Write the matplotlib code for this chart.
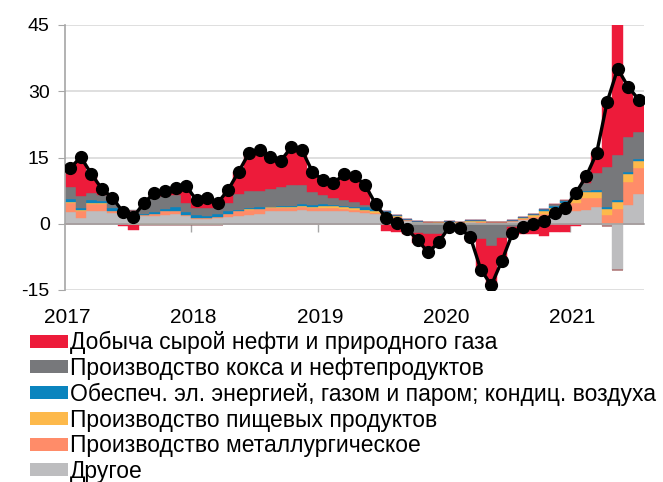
import matplotlib
matplotlib.use("Agg")
import matplotlib.pyplot as plt
from matplotlib.patches import Patch
from matplotlib import font_manager
import matplotlib.transforms as mtransforms
import numpy as np

# ---------------- data (Jan 2017 .. Jul 2021, monthly) ----------------
years = ["2017", "2018", "2019", "2020", "2021"]

labels = [
    "Добыча сырой нефти и природного газа",
    "Производство кокса и нефтепродуктов",
    "Обеспеч. эл. энергией, газом и паром; кондиц. воздуха",
    "Производство пищевых продуктов",
    "Производство металлургическое",
    "Другое",
]

oil = [4.2, 8.8, 4.4, 1.4, 0.5, -0.4, -1.2, 0.0, 1.2, 1.4, 1.9, 4.2,
       2.1, 2.5, 1.4, 3.0, 5.0, 8.7, 9.2, 7.4, 6.0, 8.6, 8.0, 4.7,
       3.4, 3.4, 5.8, 5.8, 4.5, 0.5, -1.6, -1.2, -1.2, -2.3, -4.6, -2.4,
       0.0, 0.0, -1.0, -7.7, -9.4, -5.7, -2.2, -1.7, -1.8, -2.5, -1.9, -1.9,
       -0.4, 1.4, 4.6, 15.2, 30.0, 11.3, 7.3]
coke = [2.8, 2.8, 1.5, 1.3, 1.9, 0.8, 0.8, 2.6, 3.3, 3.0, 2.6, 2.1,
        1.6, 1.7, 1.3, 1.9, 3.6, 3.8, 3.8, 3.9, 4.2, 4.6, 4.3, 2.8,
        2.0, 1.5, 1.3, 1.1, 0.6, 0.7, 0.0, -0.6, -1.1, -2.0, -2.4, -2.3,
        -1.4, -1.4, -2.8, -3.5, -5.0, -3.2, -0.8, -0.7, -0.6, -0.2, 0.3, 0.2,
        1.4, 1.8, 3.7, 9.1, 10.2, 8.0, 6.1]
elec = [0.6, 0.4, 0.7, 0.6, 0.6, 0.4, 0.4, 0.4, 0.4, 0.5, 0.9, 0.6,
        0.5, 0.5, 0.6, 0.5, 0.3, 0.3, 0.3, 0.2, 0.3, 0.2, 0.3, 0.4,
        0.4, 0.3, 0.3, 0.4, 0.5, 0.5, 0.5, 0.3, 0.2, 0.1, 0.1, 0.1,
        0.2, 0.1, 0.2, 0.1, 0.1, 0.1, 0.1, 0.2, 0.3, 0.4, 0.5, 0.4,
        0.3, 0.4, 0.4, 0.5, 0.4, 0.4, 0.5]
food = [0.3, 0.1, 0.2, 0.1, 0.1, -0.1, -0.2, -0.2, -0.2, -0.2, -0.3, -0.3,
        -0.3, -0.2, -0.2, 0.1, 0.1, 0.1, 0.1, 0.2, 0.3, 0.4, 0.3, 0.4,
        0.6, 0.5, 0.5, 0.3, 0.4, 0.4, 0.3, 0.2, 0.1, 0.1, 0.1, 0.2,
        0.1, 0.1, 0.1, 0.2, 0.1, 0.1, 0.1, 0.3, 0.5, 0.9, 1.0, 0.9,
        0.8, 1.3, 1.5, 1.3, 1.7, 1.8, 1.6]
metal = [2.1, 1.7, 1.5, 1.5, 0.4, 0.2, 0.1, 0.1, 0.5, 0.8, 0.7, 0.3,
         0.3, 0.3, 0.3, 0.6, 1.0, 1.2, 1.0, 0.7, 0.6, 0.6, 0.6, 0.6,
         0.7, 0.7, 0.5, 0.6, 0.4, 0.2, 0.2, 0.1, 0.1, 0.1, 0.1, 0.1,
         0.1, 0.1, 0.2, 0.3, 0.1, 0.2, 0.2, 0.2, 0.4, 0.8, 1.1, 1.5,
         2.0, 2.6, 2.1, 2.0, 3.3, 5.2, 5.8]
other = [2.6, 1.3, 3.0, 3.0, 2.4, 1.8, 1.7, 1.8, 1.8, 2.0, 2.3, 1.7,
         1.1, 1.0, 1.3, 1.6, 1.8, 2.0, 2.3, 2.8, 2.9, 2.9, 3.2, 2.9,
         2.8, 2.8, 2.8, 2.6, 2.4, 2.2, 1.9, 1.4, 0.7, 0.3, 0.2, 0.1,
         0.3, 0.1, 0.3, 0.2, 0.2, 0.1, 0.4, 0.9, 1.1, 1.3, 1.5, 2.4,
         2.8, 3.2, 3.7, -0.5, -10.5, 4.3, 6.8]
total = [12.6, 15.1, 11.3, 7.9, 5.9, 2.7, 1.6, 4.7, 7.0, 7.5, 8.1, 8.6,
         5.3, 5.8, 4.7, 7.7, 11.8, 16.1, 16.7, 15.2, 14.3, 17.3, 16.7, 11.8,
         9.9, 9.2, 11.2, 10.8, 8.8, 4.5, 1.3, 0.2, -1.2, -3.7, -6.5, -4.2,
         -0.7, -1.0, -3.0, -10.4, -13.9, -8.4, -2.2, -0.8, -0.1, 0.7, 2.4, 3.5,
         6.9, 10.7, 16.0, 27.6, 35.1, 31.0, 28.1]

yticks = [-15, 0, 15, 30, 45]

# ---------------- styling ----------------
names = {f.name for f in font_manager.fontManager.ttflist}
base_font = "Liberation Sans" if "Liberation Sans" in names else "DejaVu Sans"
plt.rcParams["font.family"] = [base_font, "DejaVu Sans"]

colors = {
    "oil": "#ED1B3A",
    "coke": "#77787B",
    "elec": "#0A84BE",
    "food": "#FDB94B",
    "metal": "#FF8C69",
    "other": "#BDBDBF",
}

fig = plt.figure(figsize=(6.63, 4.82), dpi=100)
ax = fig.add_axes([65 / 663, 1 - 290 / 482, (644 - 65) / 663, 265 / 482])

n = len(total)
x = np.arange(n)

# stacking order bottom -> top
stack = [("other", other), ("metal", metal), ("food", food),
         ("elec", elec), ("coke", coke), ("oil", oil)]
pos_bottom = np.zeros(n)
neg_bottom = np.zeros(n)
for key, vals in stack:
    v = np.array(vals, dtype=float)
    pos = np.where(v > 0, v, 0)
    neg = np.where(v < 0, v, 0)
    ax.bar(x, pos, bottom=pos_bottom, width=1.0, color=colors[key],
           edgecolor=colors[key], linewidth=0.3, zorder=2)
    ax.bar(x, neg, bottom=neg_bottom, width=1.0, color=colors[key],
           edgecolor=colors[key], linewidth=0.3, zorder=2)
    pos_bottom += pos
    neg_bottom += neg

ax.plot(x, total, color="black", linewidth=2.4, marker="o", markersize=8.5,
        zorder=5)

ax.set_xlim(-0.5, n - 0.5)
ax.set_ylim(-15, 45)
ax.set_yticks(yticks)
ax.set_yticklabels([str(t) for t in yticks])
ax.tick_params(axis="y", labelsize=14, length=5, color="#A6A6A6", pad=6)

for t in yticks:
    if t != 0:
        ax.axhline(t, color="#D9D9D9", linewidth=1.2, zorder=0)

for s in ["top", "right"]:
    ax.spines[s].set_visible(False)
ax.spines["left"].set_color("#A6A6A6")
ax.spines["left"].set_linewidth(1.2)
ax.spines["bottom"].set_position(("data", 0))
ax.spines["bottom"].set_color("#A6A6A6")
ax.spines["bottom"].set_linewidth(1.2)
ax.spines["bottom"].set_zorder(3)

boundaries = [12 * k - 0.5 for k in range(1, len(years))]
ax.set_xticks(boundaries)
ax.set_xticklabels([""] * len(boundaries))
ax.tick_params(axis="x", length=6, color="#A6A6A6", width=1.0)

trans = mtransforms.blended_transform_factory(ax.transData, ax.transAxes)
for k, yr in enumerate(years):
    ax.text(12 * k - 0.3, -0.105, yr, transform=trans, ha="center", va="center",
            fontsize=15)

handles = [Patch(facecolor=colors[k], edgecolor="none") for k in
           ["oil", "coke", "elec", "food", "metal", "other"]]
fig.legend(handles, labels, loc="upper left",
           bbox_to_anchor=(30 / 663, 1 - 331 / 482), frameon=False,
           prop={"size": 16.5},
           handlelength=1.66, handleheight=0.5, handletextpad=0.1,
           labelspacing=0.12, borderpad=0, borderaxespad=0)

fig.savefig("out.png", dpi=100)
